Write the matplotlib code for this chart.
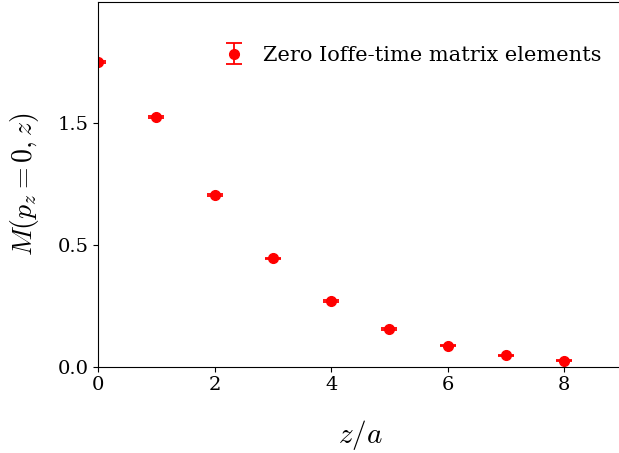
import matplotlib
matplotlib.use("Agg")
import matplotlib.pyplot as plt
import numpy as np

plt.rcParams["font.family"] = "DejaVu Serif"
plt.rcParams["mathtext.fontset"] = "cm"

# zero-momentum Ioffe-time matrix elements vs separation
z = [0, 1, 2, 3, 4, 5, 6, 7, 8]
M = [1.253, 1.027, 0.705, 0.445, 0.270, 0.155, 0.086, 0.048, 0.025]
M_err = [0.004, 0.004, 0.004, 0.003, 0.003, 0.003, 0.003, 0.002, 0.002]

ytick_pos = [0.0, 0.5, 1.0]
ytick_lab = ["0.0", "0.5", "1.5"]
xtick_pos = [0, 2, 4, 6, 8]

fig = plt.figure(figsize=(6.19, 4.53), dpi=100)
ax = fig.add_axes([98 / 619, 86.3 / 453, 524.7 / 619, 365.2 / 453])

ax.errorbar(z, M, yerr=M_err, fmt="o", color="red", markersize=7,
            capsize=6, elinewidth=1.3, capthick=1.3,
            label="Zero Ioffe-time matrix elements")

ax.set_xlim(0, 9)
ax.set_ylim(0, 1.5)
ax.set_xticks(xtick_pos)
ax.set_yticks(ytick_pos)
ax.set_yticklabels(ytick_lab)
ax.tick_params(labelsize=14)
ax.spines["right"].set_visible(False)

ax.set_xlabel(r"$z/a$", fontsize=21, labelpad=17)
ax.set_ylabel(r"$M(p_z=0,z)$", fontsize=20, labelpad=12)
ax.legend(loc="center left", bbox_to_anchor=(0.236, 0.852), frameon=False,
          fontsize=15, handlelength=1.2, handletextpad=0.8,
          borderpad=0, borderaxespad=0)

fig.savefig("out.png", dpi=100)
